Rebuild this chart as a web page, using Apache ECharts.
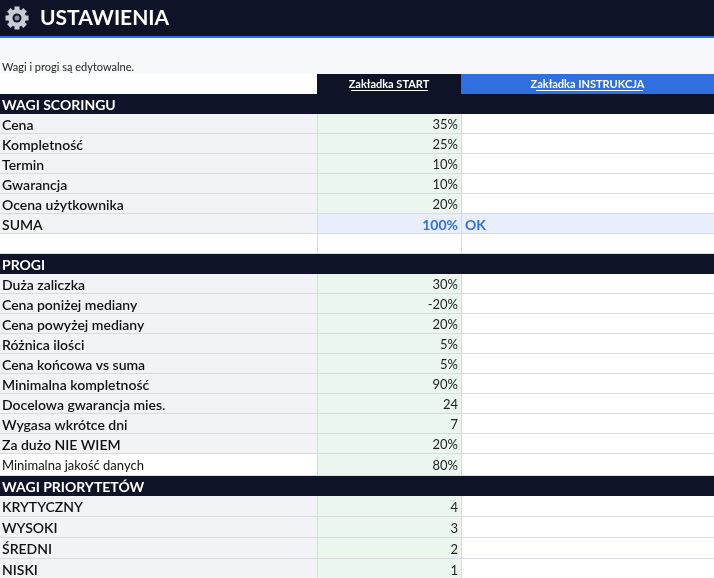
<!DOCTYPE html>
<html><head><meta charset="utf-8">
<script src="https://cdn.jsdelivr.net/npm/echarts@6/dist/echarts.min.js"></script>
<style>html,body{margin:0;padding:0;background:#f7f8fb}#main{width:714px;height:578px}</style>
</head><body><div id="main"></div>
<script>
// data
let scoringLabels = ['Cena', 'Kompletność', 'Termin', 'Gwarancja', 'Ocena użytkownika']
let scoringValues = ['35%', '25%', '10%', '10%', '20%']
let progiLabels = ['Duża zaliczka', 'Cena poniżej mediany', 'Cena powyżej mediany', 'Różnica ilości', 'Cena końcowa vs suma', 'Minimalna kompletność', 'Docelowa gwarancja mies.', 'Wygasa wkrótce dni', 'Za dużo NIE WIEM', 'Minimalna jakość danych']
let progiValues = ['30%', '-20%', '20%', '5%', '5%', '90%', '24', '7', '20%', '80%']
let prioLabels = ['KRYTYCZNY', 'WYSOKI', 'ŚREDNI', 'NISKI']
let prioValues = ['4', '3', '2', '1']

let rows = []
rows.push({ type: 'section', label: 'WAGI SCORINGU' })
scoringLabels.forEach((l, i) => rows.push({ type: 'row', label: l, value: scoringValues[i] }))
rows.push({ type: 'sum', label: 'SUMA', value: '100%', note: 'OK' })
rows.push({ type: 'blank' })
rows.push({ type: 'section', label: 'PROGI' })
progiLabels.forEach((l, i) => rows.push({ type: i == progiLabels.length - 1 ? 'plain' : 'row', label: l, value: progiValues[i] }))
rows.push({ type: 'section', label: 'WAGI PRIORYTETÓW' })
prioLabels.forEach((l, i) => rows.push({ type: 'row', label: l, value: prioValues[i], tall: true }))

let c1 = 317, c2 = 461, W = 714
let font = 'Lato'
let els = []
els.push({ type: 'rect', shape: { x: 0, y: 0, width: W, height: 36 }, style: { fill: '#0e1328' } })
els.push({ type: 'rect', shape: { x: 0, y: 36, width: W, height: 2 }, style: { fill: '#2f6fe0' } })
// gear icon
els.push({ type: 'circle', shape: { cx: 17, cy: 18, r: 9 }, style: { fill: '#c9ccd4' } })
for (let a = 0; a < 8; a++) {
    let ang = a * Math.PI / 4
    els.push({ type: 'rect', shape: { x: -2.5, y: -11.5, width: 5, height: 5 }, x: 17, y: 18, rotation: ang, style: { fill: '#c9ccd4' } })
}
els.push({ type: 'circle', shape: { cx: 17, cy: 18, r: 4.5 }, style: { fill: '#0e1328' } })
els.push({ type: 'circle', shape: { cx: 17, cy: 18, r: 2.5 }, style: { fill: '#8a8f9c' } })
els.push({ type: 'text', x: 40, y: 18, style: { text: 'USTAWIENIA', fill: '#fff', font: 'bold 21px ' + font, verticalAlign: 'middle' } })
els.push({ type: 'text', x: 2, y: 67, style: { text: 'Wagi i progi są edytowalne.', fill: '#222', font: '11px ' + font, verticalAlign: 'middle' } })
// header row
els.push({ type: 'rect', shape: { x: 0, y: 74, width: c1, height: 20 }, style: { fill: '#fff' } })
els.push({ type: 'rect', shape: { x: c1, y: 74, width: c2 - c1, height: 20 }, style: { fill: '#0e1328' } })
els.push({ type: 'rect', shape: { x: c2, y: 74, width: W - c2, height: 20 }, style: { fill: '#2f6fe0' } })
els.push({ type: 'text', x: (c1 + c2) / 2, y: 84, style: { text: 'Zakładka START', fill: '#fff', font: 'bold 11px ' + font, align: 'center', verticalAlign: 'middle' } })
els.push({ type: 'rect', shape: { x: 351, y: 90, width: 77, height: 1 }, style: { fill: '#fff' } })
els.push({ type: 'text', x: (c2 + W) / 2, y: 84, style: { text: 'Zakładka INSTRUKCJA', fill: '#fff', font: 'bold 11px ' + font, align: 'center', verticalAlign: 'middle' } })
els.push({ type: 'rect', shape: { x: 536, y: 90, width: 107, height: 1 }, style: { fill: '#fff' } })

let y = 94
rows.forEach(r => {
    let h = r.tall ? 21 : (r.type == 'plain' ? 22 : 20)
    let mid = y + h / 2 + 1
    if (r.type == 'section') {
        els.push({ type: 'rect', shape: { x: 0, y: y, width: W, height: h }, style: { fill: '#0e1328' } })
        els.push({ type: 'text', x: 2, y: mid, style: { text: r.label, fill: '#fff', font: 'bold 14px ' + font, verticalAlign: 'middle' } })
    } else {
        let f1 = '#f2f3f7', f2 = '#eaf6ee', f3 = '#fff'
        if (r.type == 'sum') { f1 = '#f2f3f7'; f2 = '#e8eefb'; f3 = '#e8eefb' }
        if (r.type == 'blank') { f1 = '#fff'; f2 = '#fff' }
        if (r.type == 'plain') { f1 = '#fff' }
        els.push({ type: 'rect', shape: { x: 0, y: y, width: c1, height: h }, style: { fill: f1 } })
        els.push({ type: 'rect', shape: { x: c1, y: y, width: c2 - c1, height: h }, style: { fill: f2 } })
        els.push({ type: 'rect', shape: { x: c2, y: y, width: W - c2, height: h }, style: { fill: f3 } })
        els.push({ type: 'rect', shape: { x: 0, y: y + h - 1, width: W, height: 1 }, style: { fill: '#d8dadf' } })
        els.push({ type: 'rect', shape: { x: c1, y: y, width: 1, height: h }, style: { fill: '#d8dadf' } })
        els.push({ type: 'rect', shape: { x: c2, y: y, width: 1, height: h }, style: { fill: '#d8dadf' } })
        if (r.label) {
            let bold = r.type != 'plain'
            els.push({ type: 'text', x: 2, y: mid, style: { text: r.label, fill: '#111', font: (bold ? '600 14px ' : '13px ') + font, verticalAlign: 'middle' } })
        }
        if (r.value) {
            let sum = r.type == 'sum'
            els.push({ type: 'text', x: c2 - 3, y: mid, style: { text: r.value, fill: sum ? '#2f6fe0' : '#222', font: (sum ? 'bold 14px ' : '13px ') + font, align: 'right', verticalAlign: 'middle' } })
        }
        if (r.note) {
            els.push({ type: 'text', x: c2 + 4, y: mid, style: { text: r.note, fill: '#2f6fe0', font: 'bold 14px ' + font, verticalAlign: 'middle' } })
        }
    }
    y += h
})

let myChart = echarts.init(document.getElementById('main'), null, { renderer: 'canvas' })
myChart.setOption({ backgroundColor: '#f7f8fb', animation: false, graphic: { elements: els } })
</script>
</body></html>
